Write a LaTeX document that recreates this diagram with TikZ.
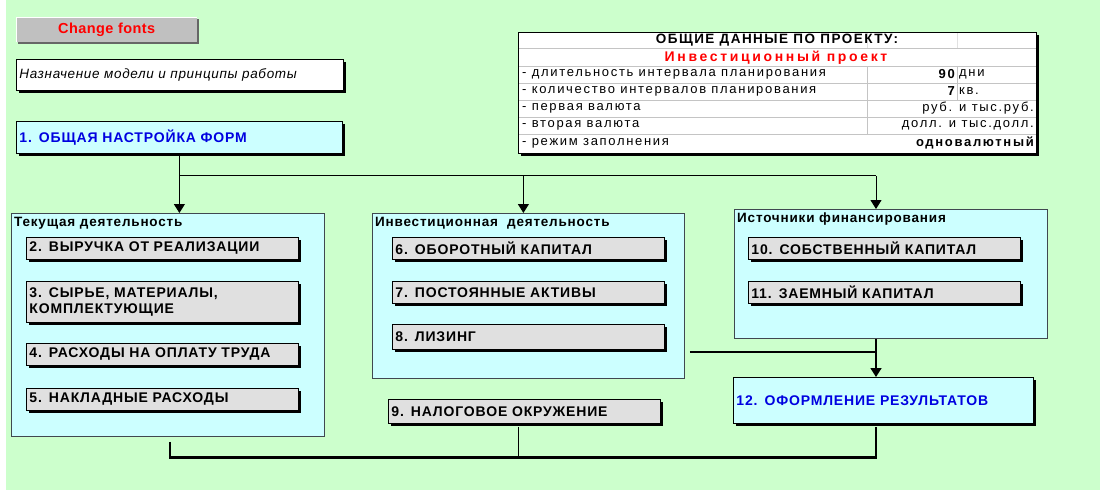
\documentclass[tikz,border=0pt]{standalone}
\usepackage{fontspec}
\setmainfont{Liberation Sans}
\newfontfamily\tblfam[LetterSpace=13]{Liberation Sans}
\newfontfamily\hdfam[LetterSpace=11]{Liberation Sans}
\newfontfamily\redfam[LetterSpace=19]{Liberation Sans}
\newfontfamily\bxfam[LetterSpace=6]{Liberation Sans}
\newfontfamily\grfam[LetterSpace=6]{Liberation Sans}
\newfontfamily\infam[LetterSpace=5]{Liberation Sans}
\newfontfamily\btfam[LetterSpace=3]{Liberation Sans}
\usetikzlibrary{arrows.meta,shadows,calc}
\definecolor{bgreen}{HTML}{CCFFCC}
\definecolor{cyanbox}{HTML}{CCFFFF}
\definecolor{graybox}{HTML}{E0E0E0}
\definecolor{btngray}{HTML}{C0C0C0}
\definecolor{bluetxt}{HTML}{0000E0}
\definecolor{redtxt}{HTML}{FF0000}
\definecolor{gridgray}{HTML}{C4C4C4}
\definecolor{framegray}{HTML}{404850}
\newcommand\bxfont{\bxfam\fontsize{14}{16}\selectfont\bfseries}
\newcommand\grfont{\grfam\fontsize{13.5}{15}\selectfont\bfseries}
\newcommand\tbfont{\tblfam\fontsize{13}{14}\selectfont}
\begin{document}
\begin{tikzpicture}[x=1pt,y=-1pt,
  shad/.style={drop shadow={shadow xshift=3pt,shadow yshift=-3pt,fill=black,opacity=1}},
  box/.style={anchor=north west,inner xsep=3pt,inner ysep=0pt,align=left,draw=black,line width=0.8pt},
  gbox/.style={box,shad,fill=graybox,font=\bxfont},
  cbox/.style={box,shad,fill=cyanbox,font=\bxfont,text=bluetxt},
  group/.style={anchor=north west,draw=framegray,fill=cyanbox,line width=0.8pt,inner sep=0pt},
  grtitle/.style={anchor=north west,inner sep=0pt,font=\grfont},
  conn/.style={draw=black,line width=1pt},
  arr/.style={conn,-{Triangle[width=11pt,length=9pt]}},
  heavy/.style={draw=black,line width=2.8pt},
  tcell/.style={inner sep=0pt,font=\tbfont},
  tline/.style={draw=gridgray,line width=0.8pt}
]
\useasboundingbox (0,0) rectangle (1100,490);
\fill[bgreen] (6,0) rectangle (1100,490);

% top left controls
\node[anchor=north west,fill=btngray,minimum width=181,minimum height=25,inner sep=0pt,
  drop shadow={shadow xshift=2pt,shadow yshift=-2pt,fill=black!60,opacity=1},
  font=\btfam\fontsize{14.5}{16}\selectfont\bfseries,text=redtxt] (btn) at (16,17) {Change fonts};
\draw[white,line width=1pt] (btn.south west) -- (btn.north west) -- (btn.north east);
\node[box,shad,fill=white,minimum width=327,minimum height=31,text width=321,
  font=\infam\fontsize{13.5}{15}\selectfont\itshape] (intro) at (16,59) {Назначение модели и принципы работы};
\node[cbox,minimum width=326,minimum height=32,text width=320] (b1) at (16,121) {1. ОБЩАЯ НАСТРОЙКА ФОРМ};

% groups
\node[group,minimum width=313,minimum height=223] (gcur) at (11,213) {};
\node[grtitle] (tcur) at (14,217) {Текущая деятельность};
\node[group,minimum width=312,minimum height=165] (ginv) at (372,213) {};
\node[grtitle] (tinv) at (375,217) {Инвестиционная\ \ деятельность};
\node[group,minimum width=313,minimum height=129] (gsrc) at (734,209) {};
\node[grtitle] (tsrc) at (737,213) {Источники финансирования};

% inner boxes
\node[gbox,minimum width=272,minimum height=22,text width=266] (b2) at (26,237) {2. ВЫРУЧКА ОТ РЕАЛИЗАЦИИ};
\node[gbox,minimum width=272,minimum height=41,text width=266] (b3) at (26,281) {3. СЫРЬЕ, МАТЕРИАЛЫ,\\КОМПЛЕКТУЮЩИЕ};
\node[gbox,minimum width=272,minimum height=22,text width=266] (b4) at (26,343) {4. РАСХОДЫ НА ОПЛАТУ ТРУДА};
\node[gbox,minimum width=272,minimum height=22,text width=266] (b5) at (26,388) {5. НАКЛАДНЫЕ РАСХОДЫ};
\node[gbox,minimum width=272,minimum height=22,text width=266] (b6) at (392,237) {6. ОБОРОТНЫЙ КАПИТАЛ};
\node[gbox,minimum width=272,minimum height=22,text width=266] (b7) at (392,281) {7. ПОСТОЯННЫЕ АКТИВЫ};
\node[gbox,minimum width=272,minimum height=25,text width=266] (b8) at (392,324) {8. ЛИЗИНГ};
\node[gbox,minimum width=272,minimum height=24,text width=266] (b9) at (388,399) {9. НАЛОГОВОЕ ОКРУЖЕНИЕ};
\node[gbox,minimum width=272,minimum height=22,text width=266] (b10) at (748,237) {10. СОБСТВЕННЫЙ КАПИТАЛ};
\node[gbox,minimum width=272,minimum height=22,text width=266] (b11) at (748,281) {11. ЗАЕМНЫЙ КАПИТАЛ};
\node[cbox,minimum width=300,minimum height=46,text width=294] (b12) at (733,377) {12. ОФОРМЛЕНИЕ РЕЗУЛЬТАТОВ};

% connectors
\coordinate (hub) at ($(b1.south)+(0,22)$);
\coordinate (srcin) at ($(gsrc.north west)+(142,0)$);
\coordinate (invin) at ($(ginv.north)+(-5,0)$);
\draw[conn] (b1.south) -- (hub) -- (hub -| srcin);
\draw[arr] (hub) -- (hub |- gcur.north);
\draw[arr] (hub -| invin) -- (invin);
\draw[arr] (hub -| srcin) -- (srcin);
\draw[arr,line width=1.6pt] (gsrc.south -| srcin) -- (b12.north -| srcin);
\coordinate (from8) at ($(b8.south east)+(25,2)$);
\draw[conn,line width=1.6pt] (from8) -- (from8 -| srcin);
\coordinate (bl) at ($(gcur.south)+(2,5)$);
\coordinate (by) at ($(b9.south)+(0,34)$);
\draw[heavy] (bl) -- (bl |- by) -- (by -| srcin) -- ($(b12.south -| srcin)+(0,3)$);
\draw[conn,line width=1.8pt] ($(b9.south)+(-6,3)$) -- ($(by)+(-6,0)$);

% project data table
\node[anchor=north west,draw=black,line width=0.8pt,fill=white,shad,minimum width=518,minimum height=121,inner sep=0pt] (tbl) at (518,32) {};
\foreach \yy in {48,66,83,100,117,134} \draw[tline] (519,\yy) -- (1036,\yy);
\draw[tline] (867,66) -- (867,134);
\draw[tline] (957,66) -- (957,100);
\draw[tline,draw=gridgray!50] (867,33) -- (867,48);
\draw[tline,draw=gridgray!50] (957,33) -- (957,48);
\draw[black,line width=0.8pt] (518,32) rectangle (1036,153);
\node[tcell,font=\hdfam\fontsize{13.5}{14}\selectfont\bfseries] (th) at (777,40.5) {ОБЩИЕ ДАННЫЕ ПО ПРОЕКТУ:};
\node[tcell,font=\redfam\fontsize{14}{14}\selectfont\bfseries,text=redtxt] (tp) at (776,57.5) {Инвестиционный проект};
\node[tcell,anchor=west] (r1) at (522,74.5) {- длительность интервала планирования};
\node[tcell,anchor=west] (r2) at (522,91.5) {- количество интервалов планирования};
\node[tcell,anchor=west] (r3) at (522,108.5) {- первая валюта};
\node[tcell,anchor=west] (r4) at (522,125.5) {- вторая валюта};
\node[tcell,anchor=west] (r5) at (522,143) {- режим заполнения};
\node[tcell,anchor=east,font=\tbfont\bfseries] (v1) at (955,74.5) {90};
\node[tcell,anchor=east,font=\tbfont\bfseries] (v2) at (955,91.5) {7};
\node[tcell,anchor=west] (u1) at (959,74.5) {дни};
\node[tcell,anchor=west] (u2) at (959,91.5) {кв.};
\node[tcell,anchor=east] (v3) at (1034,108.5) {руб. и тыс.руб.};
\node[tcell,anchor=east] (v4) at (1034,125.5) {долл. и тыс.долл.};
\node[tcell,anchor=east,font=\tbfont\bfseries] (v5) at (1034,143) {одновалютный};
\end{tikzpicture}
\end{document}
